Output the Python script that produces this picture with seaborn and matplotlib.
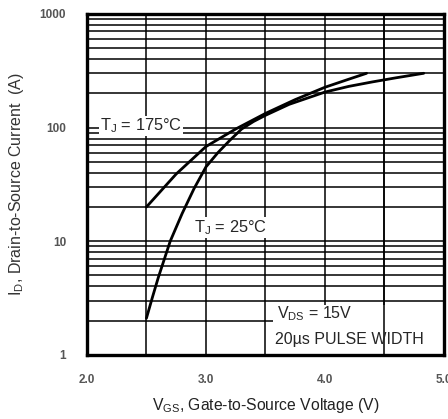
import matplotlib
matplotlib.use("Agg")
import matplotlib.pyplot as plt
import seaborn as sns
import pandas as pd
from matplotlib.ticker import FixedLocator, NullFormatter, FixedFormatter
from matplotlib.patches import Rectangle

vgs_175 = [2.5, 2.75, 3.0, 3.25, 3.5, 3.75, 4.0, 4.2, 4.35]
id_175 = [20, 39, 68, 97, 133, 176, 226, 266, 300]
vgs_25 = [2.5, 2.55, 2.6, 2.7, 2.8, 2.9, 3.0, 3.1, 3.2, 3.3, 3.4, 3.5, 3.7, 4.0, 4.2, 4.4, 4.6, 4.83]
id_25 = [2.1, 3.2, 4.8, 10, 17.5, 29, 45, 60, 77, 97, 113, 128, 160, 205, 230, 252, 274, 300]
x_ticks = [2.0, 3.0, 4.0, 5.0]
x_tick_labels = ["2.0", "3.0", "4.0", "5.0"]
y_ticks = [1, 10, 100, 1000]
y_tick_labels = ["1", "10", "100", "1000"]

df = pd.concat([
    pd.DataFrame({"VGS": vgs_175, "ID": id_175, "T": "175"}),
    pd.DataFrame({"VGS": vgs_25, "ID": id_25, "T": "25"}),
])

sns.set_style("white")
plt.rcParams['font.family'] = ['Liberation Sans', 'DejaVu Sans']
plt.rcParams['mathtext.default'] = 'regular'

fig = plt.figure(figsize=(4.48, 4.19), dpi=100)
ax = fig.add_axes([0.194, 0.153, 0.797, 0.814])

sns.lineplot(data=df, x="VGS", y="ID", units="T", estimator=None, sort=False,
             color="black", linewidth=2.0, ax=ax, legend=False, zorder=5)

ax.set_yscale("log")
ax.set_xlim(2.0, 5.0)
ax.set_ylim(1, 1000)

ax.set_xticks(x_ticks)
ax.set_xticklabels(x_tick_labels)
ax.xaxis.set_minor_locator(FixedLocator([2.5, 3.5, 4.5]))
ax.yaxis.set_major_locator(FixedLocator(y_ticks))
ax.yaxis.set_major_formatter(FixedFormatter(y_tick_labels))
minors = [m * 10**e for e in range(0, 3) for m in range(2, 10)]
ax.yaxis.set_minor_locator(FixedLocator(minors))
ax.yaxis.set_minor_formatter(NullFormatter())
ax.grid(True, which="both", color="black", linewidth=1.1)
ax.set_axisbelow(True)
ax.tick_params(which="both", length=0, labelsize=8.5, colors="#555555", pad=15)
ax.tick_params(axis="x", pad=14)
for lab in ax.get_xticklabels() + ax.get_yticklabels():
    lab.set_fontweight("bold")
for s in ax.spines.values():
    s.set_color("black")
    s.set_linewidth(2.4)

# white box behind the test-condition note
ax.add_patch(Rectangle((3.56, 1.02), 1.44, 1.75, transform=ax.transData,
                       facecolor="white", edgecolor="none", zorder=1.5))
ax.axvline(4.5, color="black", linewidth=1.1, zorder=1.6)

ax.set_xlabel(r"V$_{GS}$, Gate-to-Source Voltage (V)", fontsize=11.3, color="#222222", labelpad=7)
ax.set_ylabel(r"I$_{D}$, Drain-to-Source Current  (A)", fontsize=11.5, color="#333333", labelpad=10)

bb = dict(facecolor="white", edgecolor="none", pad=0.5)
ax.text(2.11, 103, r"T$_{J}$ = 175°C", fontsize=11.8, ha="left", va="center", bbox=bb, zorder=4)
ax.text(2.9, 13.2, r"T$_{J}$ = 25°C", fontsize=11.8, ha="left", va="center", bbox=bb, zorder=4)
ax.text(3.6, 2.3, r"V$_{DS}$ = 15V", fontsize=11.5, ha="left", va="center", zorder=4)
ax.text(3.58, 1.36, "20µs PULSE WIDTH", fontsize=11.5, ha="left", va="center", zorder=4)

fig.savefig("out.png", dpi=100)
